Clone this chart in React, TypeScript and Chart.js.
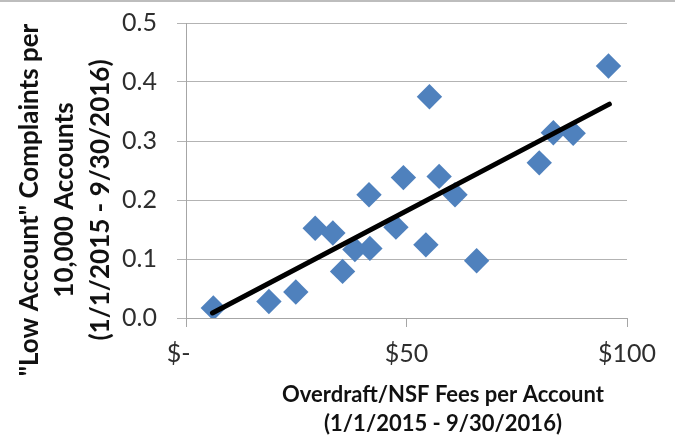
import { useEffect, useRef } from 'react';
import { Chart, registerables } from 'chart.js';

Chart.register(...registerables);

// Overdraft/NSF fees per account ($) and "Low Account" complaints per 10,000 accounts
const feesPerAccount = [6.2, 18.8, 24.9, 29.3, 33.3, 35.5, 38.3, 41.7, 41.5, 47.6, 49.3, 54.4, 55.2, 57.4, 61.0, 65.9, 80.1, 83.3, 87.8, 95.8];
const complaintsPer10k = [0.017, 0.028, 0.044, 0.152, 0.144, 0.079, 0.116, 0.118, 0.209, 0.154, 0.238, 0.124, 0.375, 0.240, 0.209, 0.097, 0.263, 0.314, 0.313, 0.427];

// Linear trend line end points
const trendX = [6.0, 96.0];
const trendY = [0.0085, 0.3625];

const xTickValues = [0, 50, 100];
const xTickLabels = ['$-\u2007', '$50', '$100'];
const yTickLabels = ['0.0', '0.1', '0.2', '0.3', '0.4', '0.5'];

const yTitleLines = ['"Low Account" Complaints per', '10,000 Accounts', '(1/1/2015 - 9/30/2016)'];
const xTitleLines = ['Overdraft/NSF Fees per Account', '(1/1/2015 - 9/30/2016)'];

const W = 675;
const H = 437;

const titlesPlugin = {
  id: 'axisTitlesFrame',
  beforeDraw(chart: any) {
    const ctx = chart.ctx;
    ctx.save();
    ctx.fillStyle = '#ffffff';
    ctx.fillRect(0, 0, W, H);
    ctx.fillStyle = '#bdbdbd';
    ctx.fillRect(0, 0, W, 2);
    ctx.restore();
  },
  afterDraw(chart: any) {
    const ctx = chart.ctx;
    ctx.save();
    ctx.fillStyle = '#111111';
    ctx.textAlign = 'center';
    ctx.textBaseline = 'middle';
    // y-axis title (rotated)
    ctx.font = 'bold 26px Lato';
    const yXs = [30, 65, 101];
    yTitleLines.forEach((line, i) => {
      ctx.save();
      ctx.translate(yXs[i], 200);
      ctx.rotate(-Math.PI / 2);
      ctx.fillText(line, 0, 0);
      ctx.restore();
    });
    // x-axis title
    ctx.font = 'bold 22px Lato';
    const xYs = [395, 424];
    xTitleLines.forEach((line, i) => {
      ctx.fillText(line, 443, xYs[i]);
    });
    ctx.restore();
  },
};

export default function App() {
  const canvasRef = useRef<HTMLCanvasElement | null>(null);

  useEffect(() => {
    const canvas = canvasRef.current;
    if (!canvas) return;
    const points = feesPerAccount.map((x, i) => ({ x, y: complaintsPer10k[i] }));
    const trend = trendX.map((x, i) => ({ x, y: trendY[i] }));

    const chart = new Chart(canvas, {
      type: 'scatter',
      data: {
        datasets: [
          {
            label: 'Linear trend',
            data: trend,
            showLine: true,
            borderColor: '#000000',
            borderWidth: 5,
            borderCapStyle: 'round',
            pointRadius: 0,
            fill: false,
          } as any,
          {
            label: 'Complaints',
            data: points,
            pointStyle: 'rectRot',
            pointRadius: 12.7,
            backgroundColor: '#4F81BD',
            borderColor: '#4F81BD',
            borderWidth: 0,
          } as any,
        ],
      },
      options: {
        responsive: false,
        animation: false,
        events: [],
        layout: { padding: { top: 23, right: 48, left: 0, bottom: 0 } },
        plugins: {
          legend: { display: false },
          tooltip: { enabled: false },
          title: { display: false },
        },
        scales: {
          x: {
            type: 'linear',
            min: 0,
            max: 100,
            afterFit: (scale: any) => {
              scale.height = 119;
              scale.paddingLeft = 0;
              scale.paddingRight = 0;
            },
            afterBuildTicks: (scale: any) => {
              scale.ticks = xTickValues.map((v) => ({ value: v }));
            },
            ticks: {
              padding: 12,
              maxRotation: 0,
              autoSkip: false,
              color: '#2e2e2e',
              font: { family: 'Lato', size: 25 },
              callback: (value: any) => {
                const i = xTickValues.indexOf(Number(value));
                return i >= 0 ? xTickLabels[i] : '';
              },
            },
            grid: {
              drawOnChartArea: false,
              drawTicks: true,
              tickLength: 9,
              color: '#a6a6a6',
              lineWidth: 1,
            },
            border: { display: true, color: '#a6a6a6', width: 1 },
          },
          y: {
            type: 'linear',
            min: 0,
            max: 0.5,
            afterFit: (scale: any) => {
              scale.width = 186;
              scale.paddingTop = 0;
              scale.paddingBottom = 0;
            },
            ticks: {
              stepSize: 0.1,
              padding: 20,
              color: '#2e2e2e',
              font: { family: 'Lato', size: 25 },
              callback: (value: any) => yTickLabels[Math.round(Number(value) * 10)] ?? '',
            },
            grid: {
              drawOnChartArea: true,
              drawTicks: true,
              tickLength: 9,
              color: '#b3b3b3',
              lineWidth: 1,
            },
            border: { display: true, color: '#a6a6a6', width: 1 },
          },
        },
      },
      plugins: [titlesPlugin],
    });

    return () => {
      chart.destroy();
    };
  }, []);

  return (
    <div style={{ position: 'fixed', left: 0, top: 0, width: W, height: H, background: '#fff' }}>
      <canvas ref={canvasRef} width={W} height={H} style={{ display: 'block', width: W, height: H }} />
    </div>
  );
}
